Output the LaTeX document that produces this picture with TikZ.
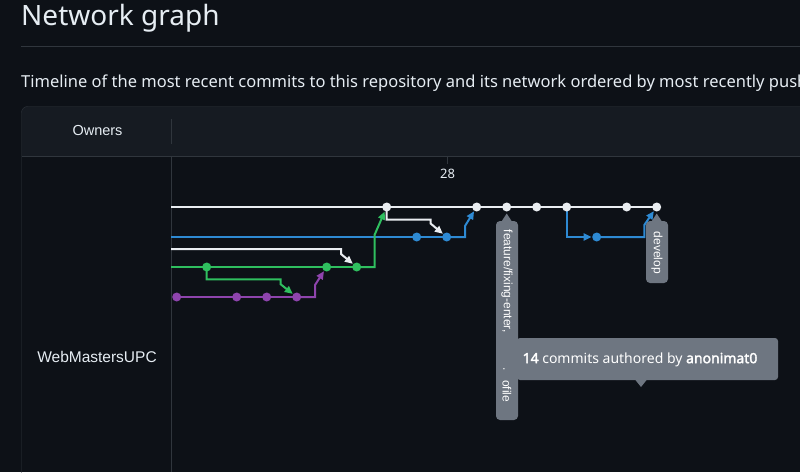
\documentclass[tikz,border=0pt]{standalone}
\usepackage{fontspec}
\setmainfont{Noto Sans}
\newfontfamily\arialf{Liberation Sans}
\newfontfamily\fakebold{Noto Sans}[FakeBold=2.2]
\usetikzlibrary{arrows.meta}
\definecolor{bgc}{HTML}{0D1117}
\definecolor{hdr}{HTML}{161B22}
\definecolor{bord}{HTML}{30363D}
\definecolor{fg}{HTML}{E6EDF3}
\definecolor{wl}{HTML}{E9EDF1}
\definecolor{bl}{HTML}{2E8AD3}
\definecolor{gr}{HTML}{2FBF5F}
\definecolor{pu}{HTML}{8E44AD}
\definecolor{lab}{HTML}{6E7681}
\pgfdeclarelayer{back}
\pgfsetlayers{back,main}
\tikzset{
  dot/.style={circle, inner sep=0pt, minimum size=9pt, fill=#1},
  lane/.style={line width=2pt, draw=#1},
  merge/.style={line width=2pt, draw=#1, -{Triangle[length=8pt,width=7pt]}, shorten >=0.3pt},
  vlabel/.style={rotate=-90, inner sep=0pt, text=white, font=\arialf\fontsize{12}{12}\selectfont, anchor=west},
}
\begin{document}
\begin{tikzpicture}[x=1pt,y=-1pt]
\clip (0,0) rectangle (800,472);
% dots (commits)
\node[dot=pu] (p0) at (176.7,297) {};
\node[dot=pu] (p2) at (236.7,297) {};
\node[dot=pu] (p3) at (266.7,297) {};
\node[dot=pu] (p4) at (296.7,297) {};
\node[dot=gr] (g1) at (206.7,267) {};
\node[dot=gr] (g5) at (326.7,267) {};
\node[dot=gr] (g6) at (356.7,267) {};
\node[dot=bl] (b8) at (416.7,237) {};
\node[dot=bl] (b9) at (446.7,237) {};
\node[dot=bl] (b14) at (596.7,237) {};
\node[dot=wl] (w7) at (386.7,207) {};
\node[dot=wl] (w10) at (476.7,207) {};
\node[dot=wl] (w11) at (506.7,207) {};
\node[dot=wl] (w12) at (536.7,207) {};
\node[dot=wl] (w13) at (566.7,207) {};
\node[dot=wl] (w15) at (626.7,207) {};
\node[dot=wl] (w16) at (656.7,207) {};
\coordinate (wL) at (171,207);
\coordinate (bL) at (171,237);
\coordinate (w2L) at (171,249);
\coordinate (gL) at (171,267);
\begin{pgfonlayer}{back}
  \fill[bgc] (0,0) rectangle (800,472);
  \draw[bord] (21,46.5) -- (800,46.5);
  \begin{scope}
    \clip[rounded corners=6pt] (21.5,106.5) rectangle (840,520);
    \fill[hdr] (21,106) rectangle (840,156);
  \end{scope}
  \draw[bord, rounded corners=6pt] (21.5,106.5) rectangle (840,520);
  \draw[bord] (21.5,156.5) -- (840,156.5);
  \draw[bord] (171.5,119) -- (171.5,144);
  \draw[bord] (171.5,156) -- (171.5,472);
  \draw[bord] (447.5,156) -- (447.5,164);
  % lanes
  \draw[lane=wl] (wL) -- (w16.center);
  \draw[lane=bl] (bL) -- (b9.center);
  \draw[lane=gr] (gL) -- (g6.center);
  \draw[lane=pu] (p0.center) -- (p4.center);
  % merges and branches
  \draw[merge=wl] (w2L) -- ++(170,0) -- ++(0,5) -- (g6);
  \draw[merge=gr] (g1.center) -- ++(0,12.3) -- ++(74,0) -- ++(0,5) -- (p4);
  \draw[merge=pu] (p4.center) -- ++(18.3,0) -- ++(0,-12) -- (g5);
  \draw[merge=gr] (g6.center) -- ++(17.8,0) -- ++(0,-32) -- (w7);
  \draw[merge=wl] (w7.center) -- ++(0,12.6) -- ++(44,0) -- ++(0,4) -- (b9);
  \draw[merge=bl] (b9.center) -- ++(18.3,0) -- ++(0,-11) -- (w10);
  \draw[merge=bl] (w13.center) -- ++(0,30) -- (b14);
  \draw[merge=bl] (b14.center) -- ++(47.6,0) -- ++(0,-12) -- (w16);
\end{pgfonlayer}
% texts
\node[anchor=base west, inner sep=0pt, text=fg, font=\fontsize{28}{32}\selectfont] (title) at (21,25) {Network graph};
\node[anchor=base west, inner sep=0pt, text=fg, font=\fontsize{16.5}{18}\selectfont] (sub) at (21,87) {Timeline of the most recent commits to this repository and its network ordered by most recently pushed.};
\node[text=fg, font=\arialf\fontsize{14.5}{16}\selectfont] (owners) at (97.5,131) {Owners};
\node[text=fg, font=\arialf\fontsize{15.5}{17}\selectfont] (owner) at (97,357) {WebMastersUPC};
\node[text=fg, font=\fontsize{13}{14}\selectfont] (day) at (447.5,174) {28};
% branch labels
\fill[lab, rounded corners=4pt] (496,221) rectangle (518,420);
\fill[lab] (506.7,213.5) -- (501.2,222) -- (512.2,222) -- cycle;
\fill[lab, rounded corners=4pt] (646,221) rectangle (668,283);
\fill[lab] (656.7,213.5) -- (651.2,222) -- (662.2,222) -- cycle;
\node[vlabel] (lf1) at (507,229.5) {feature/fixing-enter,};
\node[vlabel] (lf2) at (507,380) {ofile};
\node[vlabel] (lf3) at (504,367) {.};
\node[vlabel] (ld) at (657,231.5) {develop};
% tooltip
\fill[lab, rounded corners=3pt] (517,338) rectangle (778,380);
\fill[lab] (635,379.5) -- (641,387) -- (647,379.5) -- cycle;
\node[text=white, font=\fontsize{14}{16}\selectfont] (tip) at (640,359.5) {{\fakebold 14} commits authored by {\fakebold anonimat0}};
\end{tikzpicture}
\end{document}
